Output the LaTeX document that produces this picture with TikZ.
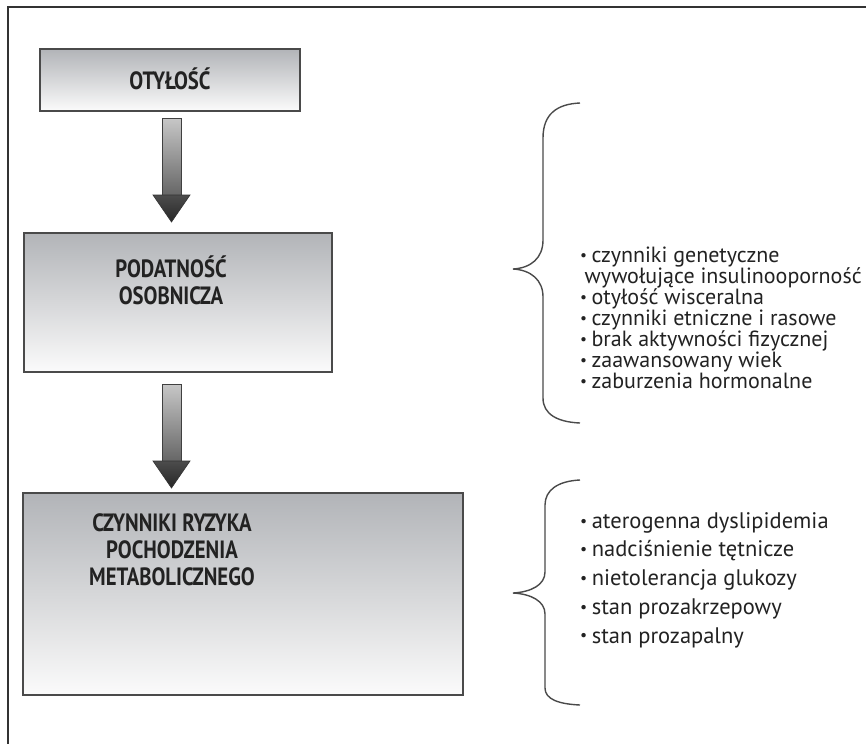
\documentclass[tikz,border=0pt]{standalone}
\usepackage{fontspec}
\usepackage{graphicx}
\setmainfont{PT Sans}
\newfontfamily\titlefont{PT Sans}[FakeStretch=0.83]
\newfontfamily\listfont{PT Sans}
\usetikzlibrary{calc}
\newcommand{\tightl}{\lineskiplimit=-30pt\relax}
\definecolor{boxtop}{HTML}{B2B4B8}
\definecolor{boxmid}{HTML}{D6D7D9}
\definecolor{boxbot}{HTML}{FBFBFB}
\definecolor{edge}{HTML}{4A4A4A}
\definecolor{txt}{HTML}{222222}
\tikzset{
  stagebox/.style={draw=edge, line width=1.3pt, inner sep=0pt, top color=boxtop, bottom color=boxbot, middle color=boxmid},
  title/.style={font=\titlefont\bfseries\fontsize{25}{27}\selectfont, text=txt, inner sep=0pt},
  listtxt/.style={font=\listfont\fontsize{22}{21}\selectfont\tightl, text=txt, align=left, inner sep=0pt, anchor=west},
  bracepath/.style={draw=edge, line width=1.4pt},
  frameline/.style={draw=black!80, line width=2pt},
  shaftstyle/.style={draw=black!75, line width=0.8pt, top color=black!22, bottom color=black!60},
  headstyle/.style={draw=black!80, line width=0.6pt, top color=black!70, bottom color=black!85}
}
\newcommand{\bul}{\raisebox{0.1em}{\scalebox{0.7}{•}}\hspace{0.2em}}
\newcommand{\ctab}[1]{\begin{tabular}{@{}c@{}}#1\end{tabular}}
\begin{document}
\begin{tikzpicture}[x=1pt,y=-1pt]
\useasboundingbox (0,0) rectangle (866,744);
\fill[white] (0,0) rectangle (866,744);
% frame (only top and left edges visible)
\coordinate (fTL) at (8,7);
\coordinate (fTR) at (866,7);
\coordinate (fBL) at (8,744);
\draw[frameline] (fTR) -- (fTL) -- (fBL);

% boxes
\node[stagebox, minimum width=260pt, minimum height=62pt] (b1) at (170,80) {};
\node[stagebox, minimum width=308pt, minimum height=139pt] (b2) at (178,302.5) {};
\node[stagebox, minimum width=440pt, minimum height=202pt] (b3) at (243,594) {};

% titles
\node[title] (t1) at (170,79) {OTYŁOŚĆ};
\node[title] (t2) at (171,284) {\ctab{PODATNOŚĆ\\OSOBNICZA}};
\node[title] (t3) at (172,553) {\ctab{CZYNNIKI RYZYKA\\POCHODZENIA\\METABOLICZNEGO}};

% arrows
\coordinate (a1s) at (171.5,118);
\coordinate (a1e) at (171.5,222);
\coordinate (a2s) at (171.5,384);
\coordinate (a2e) at (171.5,488);
\foreach \s/\e in {a1s/a1e, a2s/a2e}{
  \path[shaftstyle] ($(\s)+(-9.5,0)$) rectangle ($(\e)+(9.5,-27)$);
  \path[headstyle] ($(\e)+(-18.5,-27)$) -- ($(\e)+(18.5,-27)$) -- (\e) -- cycle;
}

% braces
\draw[bracepath] (580,103) .. controls (557,104) and (543,114) .. (543,138)
  -- (543,240) .. controls (543,258) and (531,268) .. (513,269)
  .. controls (531,270) and (543,280) .. (543,297)
  -- (543,398) .. controls (543,414) and (557,422) .. (580,423);
\draw[bracepath] (580,480) .. controls (558,481) and (545,490) .. (545,505)
  -- (545,572) .. controls (545,585) and (531,592) .. (513,593)
  .. controls (531,594) and (545,601) .. (545,614)
  -- (545,688) .. controls (545,699) and (558,704) .. (580,705);

% lists
\node[listtxt] (l1) at (580,318) {\bul czynniki genetyczne\\
\hspace{0.2em}wywołujące insulinooporność\\
\bul otyłość wisceralna\\
\bul czynniki etniczne i rasowe\\
\bul brak aktywności fizycznej\\
\bul zaawansowany wiek\\
\bul zaburzenia hormonalne};
\node[listtxt, font=\listfont\fontsize{22.5}{28.7}\selectfont\tightl] (l2) at (580,580) {\bul aterogenna dyslipidemia\\
\bul nadciśnienie tętnicze\\
\bul nietolerancja glukozy\\
\bul stan prozakrzepowy\\
\bul stan prozapalny};
\end{tikzpicture}
\end{document}
